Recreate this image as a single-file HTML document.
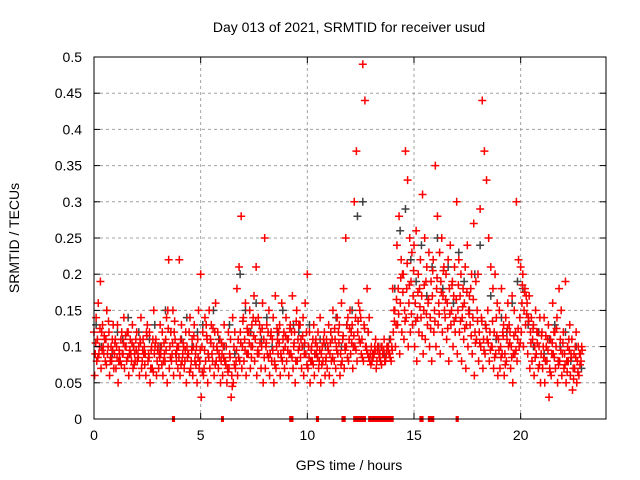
<!DOCTYPE html>
<html><head><meta charset="utf-8"><style>
body{margin:0;background:#fff}
svg{display:block;font-family:"Liberation Sans",sans-serif}
</style></head><body>
<svg id="chart" width="640" height="480" viewBox="0 0 640 480">
<text x="349" y="32" text-anchor="middle" font-size="14">Day 013 of 2021, SRMTID for receiver usud</text>
<text x="349" y="470" text-anchor="middle" font-size="14">GPS time / hours</text>
<text x="19" y="238" text-anchor="middle" font-size="14" transform="rotate(-90 19 238)">SRMTID / TECUs</text>
<g id="grid"></g><g id="gray"></g><g id="red"></g><g id="axes"></g>
</svg>
<script>
const xTicks=[0,5,10,15,20];
const yTicks=[0,0.05,0.1,0.15,0.2,0.25,0.3,0.35,0.4,0.45,0.5];
const yTickLabels=["0","0.05","0.1","0.15","0.2","0.25","0.3","0.35","0.4","0.45","0.5"];
const redHigh=[.12,.14,.16,.19,.13,.11,.15,.12,.10,.13,.11,.13,.09,.12,.14,.10,.12,.11,.13,.09,.12,.10,.14,.11,.09,.13,.12,.10,.15,.11,.10,.13,.12,.09,.14,.22,.12,.15,.11,.10,.22,.13,.10,.12,.09,.14,.11,.13,.10,.15,.20,.12,.14,.11,.15,.13,.10,.16,.12,.11,.09,.13,.10,.12,.11,.14,.12,.18,.21,.28,.14,.16,.12,.15,.13,.17,.21,.14,.12,.16,.25,.13,.15,.12,.14,.17,.11,.13,.16,.12,.14,.11,.13,.17,.12,.15,.13,.11,.14,.16,.20,.12,.10,.13,.11,.12,.14,.10,.12,.11,.13,.12,.15,.11,.14,.13,.16,.18,.25,.14,.15,.13,.30,.37,.16,.14,.49,.44,.18,.14,.10,.09,.11,.10,.09,.10,.11,.09,.10,.11,.18,.15,.24,.28,.22,.20,.37,.33,.25,.23,.24,.26,.20,.22,.31,.25,.21,.23,.19,.22,.35,.28,.23,.25,.21,.20,.22,.24,.19,.21,.30,.22,.20,.18,.21,.24,.17,.20,.27,.19,.20,.29,.44,.37,.33,.25,.21,.18,.20,.16,.15,.18,.13,.14,.16,.12,.17,.15,.30,.22,.21,.20,.18,.16,.17,.14,.13,.15,.12,.14,.12,.14,.10,.13,.11,.16,.12,.14,.18,.15,.12,.19,.10,.13,.11,.09,.12,.10,.09];
const redLow=[.06,.08,.09,.07,.10,.08,.09,.06,.08,.07,.07,.05,.08,.09,.07,.08,.06,.09,.07,.08,.08,.06,.07,.09,.06,.08,.05,.07,.09,.06,.07,.09,.06,.08,.05,.07,.08,.06,.09,.07,.06,.08,.07,.05,.09,.07,.06,.08,.05,.07,.03,.06,.08,.05,.07,.09,.06,.08,.07,.05,.06,.08,.05,.07,.03,.05,.07,.06,.08,.07,.08,.06,.09,.07,.10,.08,.06,.09,.07,.05,.07,.09,.06,.08,.05,.07,.09,.06,.08,.07,.08,.06,.09,.07,.05,.08,.10,.07,.06,.09,.07,.05,.08,.06,.09,.07,.05,.08,.06,.07,.06,.08,.05,.07,.09,.06,.08,.07,.10,.08,.09,.07,.10,.08,.11,.09,.08,.10,.09,.08,.08,.09,.07,.10,.08,.09,.08,.10,.09,.08,.12,.10,.13,.09,.12,.11,.14,.10,.12,.13,.10,.08,.12,.14,.09,.11,.13,.10,.08,.12,.10,.13,.09,.12,.15,.11,.08,.13,.10,.12,.09,.12,.08,.11,.07,.10,.13,.09,.06,.11,.08,.10,.07,.09,.11,.08,.10,.07,.09,.06,.07,.09,.06,.08,.10,.07,.05,.09,.08,.10,.12,.10,.13,.09,.07,.08,.06,.09,.07,.05,.07,.05,.08,.03,.06,.09,.07,.05,.08,.06,.07,.05,.08,.06,.04,.07,.05,.06,.08];
const redMid=[.09,.11,.10,.12,.09,.11,.10,.08,.11,.09,.10,.08,.11,.09,.10,.12,.09,.08,.10,.11,.09,.11,.08,.10,.12,.09,.07,.11,.10,.08,.09,.10,.08,.11,.15,.10,.09,.12,.08,.10,.11,.09,.08,.10,.12,.08,.10,.09,.11,.08,.10,.07,.13,.09,.11,.08,.12,.10,.09,.08,.10,.08,.07,.09,.06,.10,.08,.11,.12,.10,.11,.09,.12,.10,.14,.11,.09,.13,.10,.11,.10,.12,.09,.11,.08,.10,.12,.09,.11,.10,.11,.09,.12,.10,.08,.11,.13,.10,.09,.12,.10,.08,.11,.09,.10,.08,.09,.11,.08,.10,.09,.11,.08,.10,.12,.09,.11,.10,.13,.11,.12,.10,.14,.12,.15,.11,.13,.10,.12,.09,.09,.10,.08,.09,.10,.09,.08,.10,.09,.10,.15,.13,.18,.16,.20,.15,.18,.16,.19,.17,.16,.14,.18,.17,.15,.19,.16,.14,.17,.15,.18,.16,.19,.17,.14,.16,.18,.15,.17,.14,.15,.17,.14,.16,.13,.15,.18,.14,.12,.15,.12,.14,.11,.13,.15,.12,.10,.12,.14,.11,.10,.12,.09,.11,.13,.10,.09,.12,.11,.14,.16,.15,.17,.14,.12,.11,.10,.12,.10,.09,.10,.08,.11,.07,.09,.12,.10,.08,.11,.09,.09,.08,.11,.09,.07,.10,.08,.09,.10];
const redFill=[.105,.085,.125,.095,.115,.075,.135,.085,.095,.105,.085,.095,.075,.105,.115,.085,.095,.105,.075,.095,.085,.105,.095,.075,.115,.085,.095,.065,.105,.095,.085,.075,.105,.095,.125,.085,.105,.135,.095,.085,.075,.105,.095,.085,.065,.095,.115,.075,.085,.095,.065,.095,.115,.085,.105,.125,.075,.095,.085,.105,.085,.075,.065,.085,.045,.075,.095,.085,.105,.135,.095,.125,.105,.085,.115,.135,.095,.105,.125,.085,.105,.085,.115,.095,.075,.125,.105,.085,.095,.115,.095,.125,.085,.105,.135,.095,.085,.115,.105,.075,.085,.095,.075,.105,.085,.095,.075,.105,.085,.095,.105,.085,.125,.095,.105,.075,.115,.095,.085,.125,.105,.115,.095,.135,.105,.085,.125,.095,.085,.075,.085,.095,.095,.085,.075,.095,.085,.095,.085,.095,.135,.165,.145,.195,.175,.135,.215,.185,.145,.205,.135,.175,.155,.115,.185,.145,.165,.125,.205,.135,.195,.145,.175,.205,.165,.125,.145,.185,.135,.165,.185,.135,.155,.125,.175,.145,.115,.165,.105,.135,.105,.135,.095,.125,.105,.095,.135,.085,.115,.095,.085,.115,.075,.125,.105,.085,.115,.095,.125,.105,.185,.175,.145,.135,.105,.125,.085,.105,.075,.115,.085,.115,.095,.065,.105,.085,.125,.075,.095,.105,.075,.065,.095,.085,.055,.085,.065,.075,.095];
const grayVals=[.13,.10,.15,.09,.12,.11,.14,.10,.12,.09,.11,.13,.10,.15,.12,.09,.11,.14,.10,.12,.13,.09,.15,.11,.10,.13,.09,.20,.15,.12,.16,.11,.14,.10,.12,.15,.11,.13,.12,.10,.13,.09,.11,.10,.12,.14,.10,.13,.15,.28,.30,.12,.09,.10,.09,.11,.18,.26,.29,.22,.19,.24,.17,.21,.25,.18,.21,.16,.23,.19,.15,.20,.24,.13,.17,.11,.14,.12,.16,.19,.18,.13,.10,.12,.09,.11,.13,.10,.12,.08,.10,.07];
const zeroStarts=[3.65,5.95,9.15,10.4,11.6,12.15,12.85,15.25,15.65,16.95];
const zeroEnds=[3.8,6.05,9.35,10.55,11.8,12.75,14.05,15.45,15.95,17.1];

const X0=94,X1=606,Y0=419,Y1=57,XMAX=24,YMAX=0.5;
const sx=v=>X0+(X1-X0)*v/XMAX;
const sy=v=>Y0-(Y0-Y1)*v/YMAX;
const NS="http://www.w3.org/2000/svg";
function mk(tag,parent,attrs){const e=document.createElementNS(NS,tag);for(const k in attrs)e.setAttribute(k,attrs[k]);parent.appendChild(e);return e;}
const grid=document.getElementById('grid'),axes=document.getElementById('axes');
yTicks.forEach((t,i)=>{
  if(i>0&&i<yTicks.length-1){const g=mk('line',grid,{x1:X0,x2:X1,y1:sy(t),y2:sy(t),stroke:'#a0a0a0','stroke-dasharray':'3,3','stroke-width':1});
  
  }
  const tl=mk('text',axes,{x:X0-12,y:sy(t)+5,'text-anchor':'end','font-size':14});
  tl.textContent=yTickLabels[i];
  
  
  mk('line',axes,{x1:X0,x2:X0+6,y1:sy(t),y2:sy(t),stroke:'#000'});
  mk('line',axes,{x1:X1,x2:X1-6,y1:sy(t),y2:sy(t),stroke:'#000'});
});
xTicks.forEach(t=>{
  if(t>0){const g=mk('line',grid,{x1:sx(t),x2:sx(t),y1:Y0,y2:Y1,stroke:'#a0a0a0','stroke-dasharray':'3,3','stroke-width':1});
  
  }
  const tl=mk('text',axes,{x:sx(t),y:Y0+21,'text-anchor':'middle','font-size':14});
  tl.textContent=String(t);
  
  
  mk('line',axes,{x1:sx(t),x2:sx(t),y1:Y0,y2:Y0-6,stroke:'#000'});
  mk('line',axes,{x1:sx(t),x2:sx(t),y1:Y1,y2:Y1+6,stroke:'#000'});
});
const frame=mk('rect',axes,{x:X0,y:Y1,width:X1-X0,height:Y0-Y1,fill:'none',stroke:'#000','stroke-width':1});


function plus(parent,t,v,color,name){
  const x=sx(t),y=sy(v);
  const p=mk('path',parent,{d:`M${x-4},${y}h8M${x},${y-4}v8`,stroke:color,'stroke-width':1.5,fill:'none'});
  
  
}
const gG=document.getElementById('gray'),gR=document.getElementById('red');
grayVals.forEach((v,i)=>plus(gG,i*0.25+0.1,v,'#404040','gray-point'));
redHigh.forEach((v,i)=>plus(gR,i*0.1,v,'#ff0000','red-point'));
redLow.forEach((v,i)=>plus(gR,i*0.1+0.03,v,'#ff0000','red-point'));
redMid.forEach((v,i)=>plus(gR,i*0.1+0.06,v,'#ff0000','red-point'));
redFill.forEach((v,i)=>plus(gR,i*0.1+0.08,v,'#ff0000','red-point'));
zeroStarts.forEach((s,i)=>{
  const r=mk('rect',gR,{x:sx(s),y:Y0-3,width:Math.max(3,sx(zeroEnds[i])-sx(s)),height:6,fill:'#ff0000'});
  
  
});
</script>
</body></html>
